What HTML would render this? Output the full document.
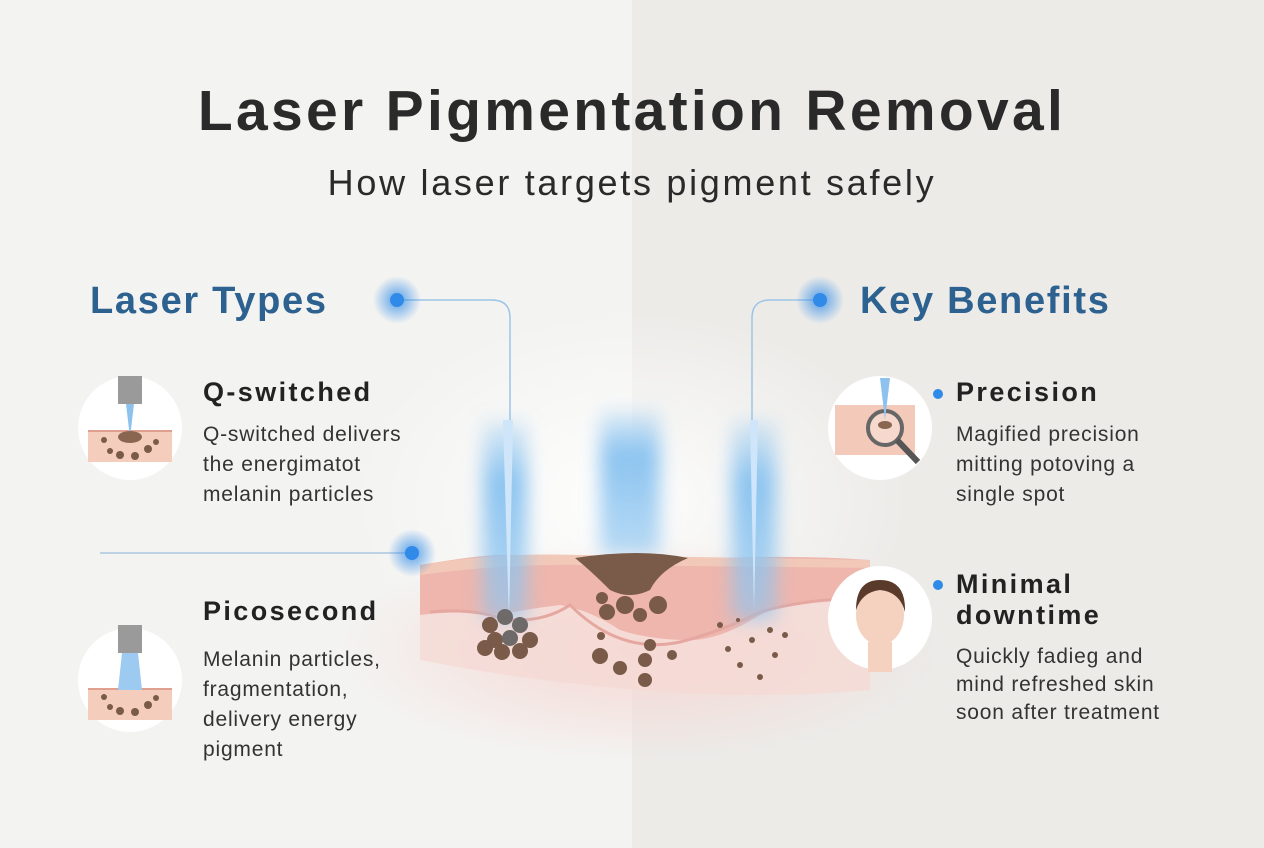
<!DOCTYPE html>
<html><head><meta charset="utf-8"><style>
body{margin:0;width:1264px;height:848px;overflow:hidden;font-family:"Liberation Sans",sans-serif;background:#f3f3f1;position:relative}
.r{position:absolute;left:632px;top:0;width:632px;height:848px;background:#ecebe8}
.t{position:absolute;white-space:nowrap}
h1{position:absolute;margin:0;top:78px;width:1264px;text-align:center;font-size:57px;color:#2a2a2a;font-weight:bold;letter-spacing:3.3px}
.sub{top:162px;width:1264px;text-align:center;font-size:36px;color:#2a2a2a;letter-spacing:2.7px}
.sec{font-size:38px;font-weight:bold;color:#2c6190;letter-spacing:1.7px}
.hd{font-size:27px;font-weight:bold;color:#222;letter-spacing:2.4px}
.bd{font-size:21px;color:#333;line-height:30px;letter-spacing:0.8px}
</style></head><body>
<div class="r"></div>
<svg style="position:absolute;left:0;top:0" width="1264" height="848">
<defs>
<radialGradient id="glow"><stop offset="0" stop-color="#2f8ae8" stop-opacity=".8"/><stop offset="1" stop-color="#2f8ae8" stop-opacity="0"/></radialGradient>
<linearGradient id="beam" x1="0" y1="0" x2="0" y2="1"><stop offset="0" stop-color="#8cc4f0" stop-opacity=".2"/><stop offset=".3" stop-color="#8cc4f0" stop-opacity="1"/><stop offset="1" stop-color="#8cc4f0" stop-opacity=".6"/></linearGradient>
<radialGradient id="pink" cx=".5" cy=".5" r=".5"><stop offset="0" stop-color="#f6d6d2"/><stop offset="1" stop-color="#f6d6d2" stop-opacity="0"/></radialGradient>
<radialGradient id="wh" cx=".5" cy=".5" r=".5"><stop offset="0" stop-color="#fff" stop-opacity=".9"/><stop offset="1" stop-color="#fff" stop-opacity="0"/></radialGradient>
<filter id="bl"><feGaussianBlur stdDeviation="9"/></filter>
</defs>
<ellipse cx="630" cy="500" rx="280" ry="190" fill="url(#wh)"/>
<ellipse cx="640" cy="650" rx="300" ry="110" fill="url(#pink)"/>
<path d="M420 575 Q520 560 560 560 L870 560 L870 690 Q760 700 640 690 Q520 680 420 660 Z" fill="#f5d9d4" opacity=".8"/>
<path d="M420 565 Q480 555 500 555 L580 555 Q620 560 640 560 L720 558 Q800 555 870 560 L870 595 Q790 600 760 615 Q720 640 690 640 Q650 640 620 630 Q590 610 560 605 Q520 610 500 615 Q460 610 420 615 Z" fill="#eeb6ad"/>
<path d="M420 565 Q500 552 580 555 L870 560 L870 568 Q700 566 580 565 Q500 564 420 575Z" fill="#f2c8b8"/>
<path d="M430 612 Q470 608 500 618 Q540 625 570 605 Q620 655 680 642 Q720 632 760 612 Q800 600 860 598" fill="none" stroke="#e5a79f" stroke-width="3"/>
<g filter="url(#bl)">
<rect x="483" y="420" width="44" height="200" fill="url(#beam)"/>
<rect x="600" y="410" width="60" height="145" fill="url(#beam)"/>
<rect x="732" y="420" width="44" height="200" fill="url(#beam)"/>
</g>
<polygon points="503,420 513,420 509,620" fill="#cfe6fa"/>
<polygon points="750,420 758,420 754,610" fill="#cfe6fa"/>
<g fill="#7a5a48">
<circle cx="490" cy="625" r="8"/><circle cx="505" cy="617" r="8" fill="#6e6a6a"/><circle cx="520" cy="625" r="8" fill="#6e6a6a"/><circle cx="495" cy="640" r="8"/><circle cx="510" cy="638" r="8" fill="#6e6a6a"/><circle cx="530" cy="640" r="8"/><circle cx="485" cy="648" r="8"/><circle cx="502" cy="652" r="8"/><circle cx="520" cy="651" r="8"/>
<path d="M575 558 Q640 548 688 558 Q660 570 650 590 Q630 600 610 590 Q590 570 575 558Z"/>
<circle cx="602" cy="598" r="6"/><circle cx="625" cy="605" r="9"/><circle cx="607" cy="612" r="8"/><circle cx="658" cy="605" r="9"/><circle cx="640" cy="615" r="7"/>
<circle cx="600" cy="656" r="8"/><circle cx="620" cy="668" r="7"/><circle cx="645" cy="680" r="7"/><circle cx="650" cy="645" r="6"/><circle cx="645" cy="660" r="7"/><circle cx="672" cy="655" r="5"/><circle cx="601" cy="636" r="4"/>
<circle cx="728" cy="649" r="3"/><circle cx="740" cy="665" r="3"/><circle cx="720" cy="625" r="3"/><circle cx="770" cy="630" r="3"/><circle cx="752" cy="640" r="3"/><circle cx="775" cy="655" r="3"/><circle cx="738" cy="620" r="2"/><circle cx="760" cy="677" r="3"/><circle cx="785" cy="635" r="3"/>
</g>
<g fill="none" stroke="#9cc4e6" stroke-width="1.5">
<path d="M397 300 H492 Q510 300 510 318 V420"/>
<path d="M820 300 H770 Q752 300 752 318 V420"/>
<path d="M100 553 H412" stroke="#a9c6e0"/>
</g>
<circle cx="397" cy="300" r="24" fill="url(#glow)"/><circle cx="397" cy="300" r="7" fill="#2f8ae8"/>
<circle cx="820" cy="300" r="24" fill="url(#glow)"/><circle cx="820" cy="300" r="7" fill="#2f8ae8"/>
<circle cx="412" cy="553" r="24" fill="url(#glow)"/><circle cx="412" cy="553" r="7" fill="#2f8ae8"/>
<circle cx="938" cy="394" r="5" fill="#2f8ae8"/><circle cx="938" cy="585" r="5" fill="#2f8ae8"/>
<circle cx="130" cy="428" r="52" fill="#fff"/>
<rect x="88" y="430" width="84" height="32" fill="#f5cdbd"/><rect x="88" y="430" width="84" height="2" fill="#e0a090"/>
<rect x="118" y="376" width="24" height="28" fill="#9a9a9a"/><polygon points="126,404 134,404 130,438" fill="#8ec2ee"/>
<ellipse cx="130" cy="437" rx="12" ry="6" fill="#8a6550"/>
<g fill="#7a5a48"><circle cx="104" cy="440" r="3"/><circle cx="110" cy="451" r="3"/><circle cx="120" cy="455" r="4"/><circle cx="135" cy="456" r="4"/><circle cx="148" cy="449" r="4"/><circle cx="156" cy="442" r="3"/></g>
<circle cx="130" cy="680" r="52" fill="#fff"/>
<rect x="88" y="688" width="84" height="32" fill="#f5cdbd"/><rect x="88" y="688" width="84" height="2" fill="#e0a090"/>
<rect x="118" y="625" width="24" height="28" fill="#9a9a9a"/><polygon points="122,653 138,653 142,690 118,690" fill="#9ccaf0"/>
<g fill="#7a5a48"><circle cx="104" cy="697" r="3"/><circle cx="110" cy="707" r="3"/><circle cx="120" cy="711" r="4"/><circle cx="135" cy="712" r="4"/><circle cx="148" cy="705" r="4"/><circle cx="156" cy="698" r="3"/></g>
<circle cx="880" cy="428" r="52" fill="#fff"/>
<rect x="835" y="405" width="80" height="50" fill="#f3c9b9"/>
<circle cx="885" cy="428" r="17" fill="#f6d8cc" stroke="#666" stroke-width="4"/><line x1="897" y1="440" x2="918" y2="462" stroke="#555" stroke-width="6"/>
<ellipse cx="885" cy="425" rx="7" ry="4" fill="#8a6550"/><polygon points="880,378 890,378 885,420" fill="#8ec2ee"/>
<circle cx="880" cy="618" r="52" fill="#fff"/>
<ellipse cx="880" cy="615" rx="24" ry="30" fill="#f5d2c0"/><path d="M856 610 Q856 580 880 580 Q906 580 905 612 Q900 592 880 590 Q862 592 856 610Z" fill="#5a3a2a"/>
<rect x="868" y="642" width="24" height="30" fill="#f5d2c0"/>
</svg>
<h1>Laser Pigmentation Removal</h1>
<div class="t sub">How laser targets pigment safely</div>
<div class="t sec" style="left:90px;top:280px">Laser Types</div>
<div class="t sec" style="left:860px;top:280px">Key Benefits</div>
<div class="t hd" style="left:203px;top:377px">Q-switched</div>
<div class="t bd" style="left:203px;top:420px">Q-switched delivers<br>the energimatot<br>melanin particles</div>
<div class="t hd" style="left:203px;top:596px">Picosecond</div>
<div class="t bd" style="left:203px;top:645px">Melanin particles,<br>fragmentation,<br>delivery energy<br>pigment</div>
<div class="t hd" style="left:956px;top:377px">Precision</div>
<div class="t bd" style="left:956px;top:420px">Magified precision<br>mitting potoving a<br>single spot</div>
<div class="t hd" style="left:956px;top:569px;line-height:31px">Minimal<br>downtime</div>
<div class="t bd" style="left:956px;top:643px;line-height:28px">Quickly fadieg and<br>mind refreshed skin<br>soon after treatment</div>
</body></html>
